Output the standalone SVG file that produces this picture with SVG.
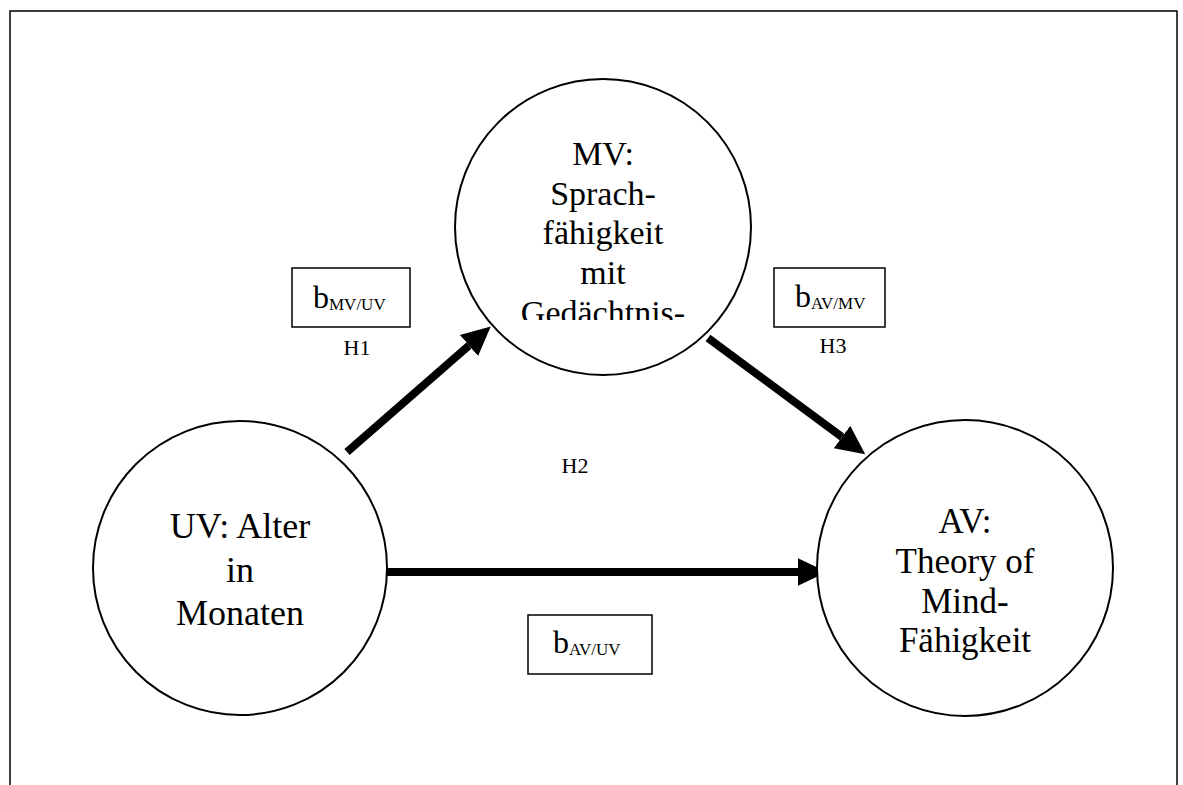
<svg xmlns="http://www.w3.org/2000/svg" width="1183" height="785" viewBox="0 0 1183 785">
<style>
.frame{fill:none;stroke:#000;stroke-width:1.5}
.node{fill:#fff;stroke:#000;stroke-width:2}
.lbl{fill:#000;text-anchor:middle}
.box{fill:#fff;stroke:#000;stroke-width:1.5}
.bt{fill:#000;font-size:32px}
.sub{font-size:17px}
.h{fill:#000;font-size:22px;text-anchor:middle}
.conn{fill:none;stroke:#000;stroke-width:8;stroke-linecap:butt}
</style>
<defs>
<marker id="ah" markerUnits="userSpaceOnUse" markerWidth="30" markerHeight="30" viewBox="0 -13 26 26" refX="0" refY="0" orient="auto">
<path d="M0,-12 L25,0 L0,12 z" fill="#000"/>
</marker>
<clipPath id="mvclip"><rect x="440" y="60" width="330" height="260"/></clipPath>
</defs>
<rect width="1183" height="785" fill="#fff"/>
<path class="frame" d="M10,785 V11 H1177 V785"/>
<g id="connectors">
<line class="conn" x1="347" y1="452" x2="469" y2="345.5" marker-end="url(#ah)"/>
<line class="conn" x1="708" y1="338" x2="842" y2="437" marker-end="url(#ah)"/>
<line class="conn" x1="387" y1="572" x2="798" y2="572" marker-end="url(#ah)"/>
</g>
<g font-family="'Liberation Serif', 'Times New Roman', serif">
<g id="mv">
<circle class="node" cx="603" cy="227" r="148"/>
<g clip-path="url(#mvclip)">
<text class="lbl" font-size="34" x="603" y="165">MV:</text>
<text class="lbl" font-size="34" x="603" y="205">Sprach-</text>
<text class="lbl" font-size="34" x="603" y="244">fähigkeit</text>
<text class="lbl" font-size="34" x="603" y="284">mit</text>
<text class="lbl" font-size="34" x="603" y="324">Gedächtnis-</text>
</g>
</g>
<g id="uv">
<circle class="node" cx="240" cy="568" r="147"/>
<text class="lbl" font-size="36" x="240" y="538">UV: Alter</text>
<text class="lbl" font-size="36" x="240" y="582">in</text>
<text class="lbl" font-size="36" x="240" y="625">Monaten</text>
</g>
<g id="av">
<circle class="node" cx="965" cy="568" r="148"/>
<text class="lbl" font-size="35" x="965" y="533">AV:</text>
<text class="lbl" font-size="35" x="965" y="573">Theory of</text>
<text class="lbl" font-size="35" x="965" y="613">Mind-</text>
<text class="lbl" font-size="35" x="965" y="652">Fähigkeit</text>
</g>
<g id="b-mv-uv">
<rect class="box" x="292" y="268" width="118" height="59"/>
<text class="bt" x="313" y="308">b<tspan class="sub" dy="2">MV/UV</tspan></text>
<text class="h" x="357" y="355">H1</text>
</g>
<g id="b-av-mv">
<rect class="box" x="774" y="268" width="111" height="59"/>
<text class="bt" x="795" y="307">b<tspan class="sub" dy="2">AV/MV</tspan></text>
<text class="h" x="833" y="353">H3</text>
</g>
<g id="b-av-uv">
<rect class="box" x="528" y="615" width="124" height="59"/>
<text class="bt" x="553" y="653">b<tspan class="sub" dy="2">AV/UV</tspan></text>
</g>
<g id="h2">
<text class="h" x="575" y="473">H2</text>
</g>
</g>
</svg>
